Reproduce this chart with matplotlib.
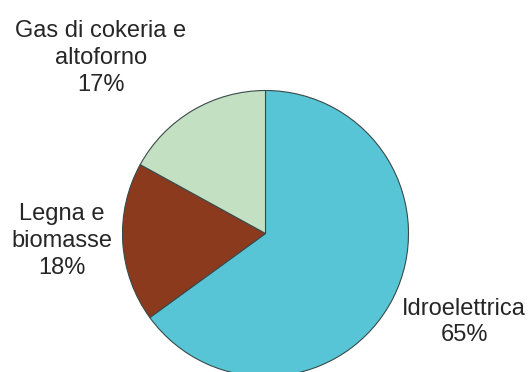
import matplotlib
matplotlib.use("Agg")
import matplotlib.pyplot as plt

# data
sources = ["Idroelettrica", "Legna e\nbiomasse", "Gas di cokeria e\naltoforno"]
shares = [65, 18, 17]
colors = ["#57C5D5", "#8B3A1E", "#C4E0C2"]

# label anchor points in pixel space (x from left, y from top)
label_pos = [(464, 322), (62, 241), (101, 58)]

W, H = 528, 372
plt.rcParams["font.family"] = ["Liberation Sans", "DejaVu Sans"]

fig = plt.figure(figsize=(W / 100, H / 100), dpi=100)
ax = fig.add_axes([0, 0, 1, 1])

ax.pie(
    shares,
    colors=colors,
    startangle=90,
    counterclock=False,
    center=(265.5, H - 233.5),
    radius=143,
    wedgeprops={"edgecolor": "#3a4a4a", "linewidth": 0.8},
)
ax.set_xlim(0, W)
ax.set_ylim(0, H)
ax.set_aspect("equal")
ax.axis("off")

for name, val, (x, y) in zip(sources, shares, label_pos):
    ax.text(x, H - y, f"{name}\n{val}%", ha="center", va="center",
            fontsize=17, color="#262626", linespacing=1.28)

fig.savefig("out.png", dpi=100)
